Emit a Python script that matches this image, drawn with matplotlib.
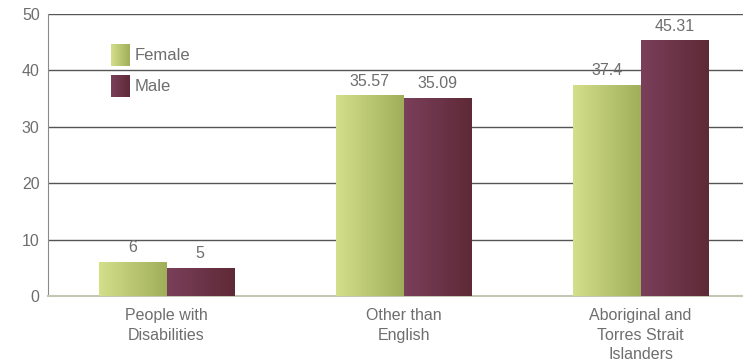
import numpy as np
import matplotlib.pyplot as plt
from matplotlib.colors import LinearSegmentedColormap

plt.rcParams['font.family'] = ['Liberation Sans', 'DejaVu Sans']

# Datos
categorias = ['People with\nDisabilities', 'Other than\nEnglish', 'Aboriginal and\nTorres Strait\nIslanders']
female = [6, 35.57, 37.4]
male = [5, 35.09, 45.31]
series = ['Female', 'Male']

# Degradados horizontales de cada serie
cmap_f = LinearSegmentedColormap.from_list('fem', ['#d4df8a', '#a0ae5a'])
cmap_m = LinearSegmentedColormap.from_list('mal', ['#7a3f5a', '#5f2a37'])
grad = np.linspace(0, 1, 256).reshape(1, -1)

gris = '#6e6e6e'
fig = plt.figure(figsize=(7.43, 3.63), dpi=100)
ax = fig.add_axes([0.0646, 0.1846, 0.9354, 0.7768])

x = np.arange(len(categorias))
w = 0.285

def barras_degradado(pos, vals, cmap):
    bars = ax.bar(pos, vals, w, facecolor='none', edgecolor='none', zorder=3)
    for b in bars:
        x0, y0 = b.get_x(), b.get_y()
        im = ax.imshow(grad, cmap=cmap, aspect='auto', zorder=3,
                       extent=[x0, x0 + b.get_width(), y0, y0 + b.get_height()])
        im.set_clip_path(b)
    return bars

bf = barras_degradado(x - w / 2, female, cmap_f)
bm = barras_degradado(x + w / 2, male, cmap_m)

for b, v in zip(list(bf) + list(bm), female + male):
    ax.text(b.get_x() + b.get_width() / 2, v + 1.2, f'{v:g}', ha='center', va='bottom',
            fontsize=11.5, color=gris, zorder=4)

ax.set_xlim(-0.5, 2.432)
ax.set_ylim(0, 50)
ax.set_yticks(np.arange(0, 51, 10))
ax.set_xticks(x)
ax.set_xticklabels(categorias, fontsize=11.5, color=gris, va='top', linespacing=1.35)
ax.tick_params(axis='y', length=0, labelsize=11.5, labelcolor=gris, pad=6)
ax.tick_params(axis='x', length=0, pad=9)

for yv in range(10, 51, 10):
    ax.axhline(yv, color='#555555', lw=1, zorder=1)

for s in ['top', 'right']:
    ax.spines[s].set_visible(False)
ax.spines['left'].set_color('#8a8a8a')
ax.spines['bottom'].set_color('#c4c6b6')
ax.spines['bottom'].set_linewidth(1.5)

# Leyenda
for i, (nombre, cmap) in enumerate(zip(series, [cmap_f, cmap_m])):
    y1 = 0.892 - i * 0.11
    ax.imshow(grad, cmap=cmap, aspect='auto', transform=ax.transAxes, zorder=5,
              extent=[0.0906, 0.1165, y1 - 0.078, y1])
    ax.text(0.1252, y1 - 0.039, nombre, transform=ax.transAxes, va='center',
            fontsize=12, color=gris, zorder=5)

ax.set_xlim(-0.5, 2.432)
ax.set_ylim(0, 50)

fig.savefig('out.png', dpi=100)
